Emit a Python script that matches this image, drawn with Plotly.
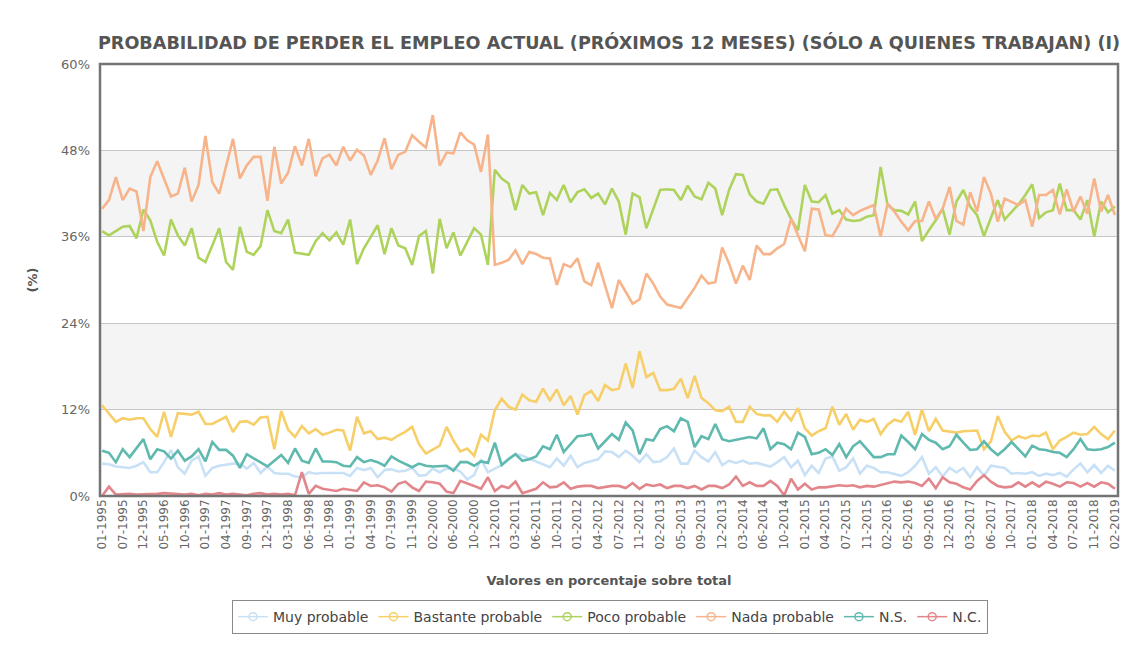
import plotly.graph_objects as go

dates = [
    "01-1995", "03-1995", "05-1995", "07-1995", "09-1995", "10-1995", "12-1995",
    "02-1996", "04-1996", "05-1996", "06-1996", "07-1996", "10-1996", "11-1996", "12-1996",
    "01-1997", "02-1997", "03-1997", "04-1997", "05-1997", "07-1997", "09-1997", "10-1997", "11-1997", "12-1997",
    "01-1998", "02-1998", "03-1998", "04-1998", "05-1998", "06-1998", "07-1998", "09-1998", "10-1998", "11-1998", "12-1998",
    "01-1999", "02-1999", "03-1999", "04-1999", "05-1999", "06-1999", "07-1999", "09-1999", "10-1999", "11-1999", "12-1999",
    "01-2000", "02-2000", "04-2000", "05-2000", "06-2000", "07-2000", "09-2000", "10-2000", "11-2000", "12-2000",
    "12-2010",
    "01-2011", "02-2011", "03-2011", "04-2011", "05-2011", "06-2011", "07-2011", "09-2011", "10-2011", "11-2011", "12-2011",
    "01-2012", "02-2012", "03-2012", "04-2012", "05-2012", "06-2012", "07-2012", "09-2012", "10-2012", "11-2012", "12-2012",
    "01-2013", "02-2013", "03-2013", "04-2013", "05-2013", "06-2013", "07-2013", "09-2013", "10-2013", "11-2013", "12-2013",
    "01-2014", "02-2014", "03-2014", "04-2014", "05-2014", "06-2014", "07-2014", "09-2014", "10-2014", "11-2014", "12-2014",
    "01-2015", "02-2015", "03-2015", "04-2015", "05-2015", "06-2015", "07-2015", "09-2015", "10-2015", "11-2015", "12-2015",
    "01-2016", "02-2016", "03-2016", "04-2016", "05-2016", "06-2016", "07-2016", "09-2016", "10-2016", "11-2016", "12-2016",
    "01-2017", "02-2017", "03-2017", "04-2017", "05-2017", "06-2017", "07-2017", "09-2017", "10-2017", "11-2017", "12-2017",
    "01-2018", "02-2018", "03-2018", "04-2018", "05-2018", "06-2018", "07-2018", "09-2018", "10-2018", "11-2018", "12-2018",
    "01-2019", "02-2019",
]

muy_probable = [
    4.5, 4.4, 4.1, 4.0, 3.9, 4.2, 4.7, 3.3, 3.3, 4.7, 6.4, 4.0, 3.1, 4.9, 5.5, 2.8, 3.9, 4.2, 4.4, 4.5,
    4.5, 3.8, 4.6, 3.2, 4.1, 3.2, 3.1, 3.1, 2.7, 2.6, 3.3, 3.1, 3.2, 3.2, 3.1, 3.2, 2.8, 3.9, 3.6, 3.9,
    2.6, 3.6, 3.7, 3.4, 3.5, 3.9, 2.8, 2.9, 3.8, 3.3,
    3.8, 3.8, 3.4, 2.3, 2.9, 5.1, 3.3, 3.8, 4.3, 5.2, 5.8, 5.6, 5.2, 4.9, 4.5, 4.0, 5.2, 4.2, 5.6, 4.0,
    4.6, 4.9, 5.1, 6.2, 6.1, 5.4, 6.3, 5.6, 4.7, 5.8, 4.7, 4.8, 5.4, 6.6, 4.5, 4.5, 6.3, 5.4, 4.8, 6.1,
    4.3, 4.9, 4.6, 4.9, 4.5, 4.6, 4.3,
    4.1, 4.7, 5.4, 4.0, 4.9, 2.9, 4.2, 3.2, 5.2, 5.5, 3.5, 4.0, 5.2, 3.1, 4.2, 3.9, 3.3, 3.3, 3.1, 2.8,
    3.3, 4.2, 5.4, 3.1, 4.0, 2.7, 3.9, 3.3, 3.9, 2.6, 4.0, 2.8, 4.2, 4.0, 3.9, 3.1, 3.2, 3.1, 3.3, 2.8,
    3.1, 2.9, 3.2, 2.7, 3.7, 4.5, 3.3, 4.3, 3.2, 4.2, 3.5,
]

bastante_probable = [
    12.6, 11.4, 10.3, 10.8, 10.6, 10.8, 10.8, 9.3, 8.2, 11.7, 8.2, 11.5, 11.4, 11.3, 11.7, 10.0, 10.0, 10.5, 11.0, 8.9,
    10.3, 10.4, 9.9, 10.9, 11.0, 6.5, 11.8, 9.2, 8.2, 9.7, 8.7, 9.3, 8.5, 8.8, 9.2, 9.1, 6.3, 11.0, 8.7, 9.0,
    7.9, 8.1, 7.8, 8.4, 8.9, 9.6, 7.2, 5.9, 6.5, 7.0,
    9.6, 7.7, 6.2, 6.6, 5.6, 8.5, 7.7, 11.9, 13.5, 12.4, 12.0, 14.1, 13.3, 13.1, 14.9, 13.3, 14.8, 12.6, 13.9, 11.3,
    14.0, 14.6, 13.2, 15.4, 14.7, 14.9, 18.4, 15.0, 20.1, 16.5, 17.1, 14.7, 14.7, 14.9, 16.3, 13.6, 16.7, 13.6, 12.9, 11.9,
    11.8, 12.4, 10.3, 10.3, 12.4, 11.4, 11.2,
    11.2, 10.3, 11.7, 10.5, 12.2, 9.4, 8.4, 9.0, 9.4, 12.4, 9.9, 11.4, 9.2, 10.6, 10.3, 10.7, 8.6, 9.9, 10.6, 10.3,
    11.7, 8.5, 12.0, 9.0, 10.7, 9.1, 9.0, 8.8, 9.0, 9.0, 9.1, 6.5, 7.6, 11.1, 8.9, 7.7, 8.3, 8.0, 8.4, 8.3,
    8.8, 6.5, 7.7, 8.2, 8.8, 8.5, 8.6, 9.6, 8.6, 7.9, 9.1,
]

poco_probable = [
    36.8, 36.2, 36.8, 37.4, 37.5, 35.8, 39.8, 38.3, 35.3, 33.4, 38.4, 36.2, 34.8, 37.2, 33.1, 32.5, 34.8, 37.2, 32.5, 31.4,
    37.4, 33.9, 33.5, 34.7, 39.7, 36.8, 36.5, 38.4, 33.8, 33.7, 33.5, 35.4, 36.5, 35.5, 36.6, 34.9, 38.4, 32.2, 34.4, 36.0,
    37.6, 33.6, 37.2, 34.8, 34.4, 32.1, 36.1, 36.8, 30.9, 38.5, 34.4, 36.6, 33.4, 35.3, 37.2, 36.3, 32.1,
    45.3, 44.1, 43.4, 39.7, 43.2, 42.0, 42.2, 39.0, 42.1, 41.1, 43.2, 40.8, 42.2, 42.6, 41.4, 42.0, 40.5, 42.7, 40.9, 36.3,
    42.0, 41.5, 37.2, 39.9, 42.5, 42.6, 42.5, 41.1, 43.1, 41.6, 41.2, 43.5, 42.7, 39.0, 42.5, 44.7, 44.6, 41.9, 40.9, 40.6,
    42.5, 42.6, 40.4, 38.5, 36.9, 43.2, 40.9, 40.8, 41.8, 39.2, 39.7, 38.4, 38.2, 38.3, 38.8, 39.0, 45.7, 40.4, 39.7, 39.6,
    39.1, 40.9, 35.4, 36.9, 38.3, 39.9, 36.3, 40.9, 42.5, 40.2, 39.0, 36.1, 38.5, 41.1, 38.4, 39.5, 40.5, 41.8, 43.3, 38.6,
    39.4, 39.7, 43.4, 39.7, 39.7, 38.4, 41.1, 36.0, 40.9, 39.4, 40.2,
]

nada_probable = [
    39.9, 41.1, 44.3, 41.1, 42.7, 42.3, 36.8, 44.3, 46.5, 44.1, 41.6, 42.0, 45.6, 40.9, 43.2, 50.0, 43.6, 42.0, 46.0, 49.6,
    44.1, 45.9, 47.1, 47.1, 41.0, 48.5, 43.4, 44.9, 48.6, 45.9, 49.6, 44.4, 46.9, 47.4, 45.9, 48.5, 46.6, 48.1, 47.3, 44.6,
    46.6, 49.7, 45.4, 47.4, 47.8, 50.1, 49.2, 48.4, 52.9, 45.9, 47.7, 47.6, 50.5, 49.4, 48.8, 45.0, 50.2,
    32.1, 32.4, 32.8, 34.1, 32.2, 33.9, 33.6, 33.1, 33.0, 29.3, 32.2, 31.8, 33.0, 29.8, 29.3, 32.4, 29.3, 26.1, 30.0, 28.4,
    26.7, 27.3, 30.9, 29.5, 27.7, 26.6, 26.3, 26.1, 27.5, 28.9, 30.6, 29.5, 29.7, 34.5, 32.3, 29.5, 32.0, 30.0, 34.8, 33.6,
    33.6, 34.4, 35.0, 38.5, 36.2, 34.0,
    39.9, 39.8, 36.2, 36.1, 37.8, 39.9, 39.0, 39.6, 40.0, 40.4, 36.0, 40.6, 39.5, 38.1, 36.9, 38.2, 38.2, 40.9, 38.5, 39.9,
    42.9, 38.2, 37.7, 42.2, 39.5, 44.3, 42.0, 38.1, 41.3, 40.9, 40.4, 41.1, 37.4, 41.8, 41.8, 42.5, 39.1, 42.6, 39.5, 41.6,
    39.2, 44.1, 39.5, 41.8, 39.0,
]

ns = [
    6.3, 6.0, 4.7, 6.5, 5.4, 6.7, 7.9, 5.1, 6.5, 6.2, 5.2, 6.3, 4.9, 5.5, 6.5, 4.8, 7.5, 6.4, 6.4, 5.6,
    3.9, 5.8, 5.2, 4.6, 4.1, 4.9, 5.7, 4.6, 6.6, 4.9, 4.6, 6.6, 4.8, 4.8, 4.7, 4.2, 4.1, 5.4, 4.7, 5.0,
    4.7, 4.2, 5.5, 4.9, 4.5, 4.0, 4.5, 4.2, 4.1, 4.1,
    4.2, 3.5, 4.7, 4.7, 4.2, 4.8, 4.6, 7.4, 4.3, 5.1, 5.8, 4.9, 5.1, 5.5, 6.9, 6.5, 8.5, 6.1, 7.2, 8.3,
    8.4, 8.6, 6.6, 7.6, 8.6, 7.8, 10.2, 9.1, 5.8, 7.9, 7.7, 9.3, 9.7, 9.0, 10.8, 10.3, 6.8, 8.3, 7.9, 10.0,
    7.9, 7.6, 7.8, 7.9, 8.2, 8.0, 9.4,
    6.5, 7.4, 7.2, 6.5, 8.8, 8.2, 5.8, 6.0, 6.5, 5.7, 7.2, 5.4, 6.9, 7.6, 6.5, 5.4, 5.4, 5.8, 5.8, 8.4,
    7.5, 6.5, 8.6, 7.8, 7.4, 6.5, 6.9, 8.5, 7.4, 6.4, 6.5, 7.6, 6.5, 5.7, 6.5, 7.5, 6.5, 5.5, 7.0, 6.5,
    6.4, 6.1, 6.0, 5.4, 6.5, 7.9, 6.5, 6.4, 6.5, 6.8, 7.4,
]

nc = [
    0.0, 1.3, 0.2, 0.3, 0.3, 0.2, 0.2, 0.2, 0.3, 0.4, 0.3, 0.2, 0.2, 0.3, 0.1, 0.3, 0.2, 0.4, 0.2, 0.3,
    0.2, 0.1, 0.3, 0.4, 0.2, 0.3, 0.2, 0.3, 0.1, 3.3, 0.3, 1.4, 1.0, 0.8, 0.7, 1.0, 0.8, 0.7, 1.9, 1.4,
    1.5, 1.2, 0.6, 1.7, 2.0, 1.2, 0.7, 2.0, 1.9, 1.7,
    0.6, 0.4, 2.1, 1.8, 1.4, 1.0, 2.6, 0.7, 1.4, 1.1, 2.0, 0.4, 0.7, 1.0, 1.9, 1.2, 1.3, 1.9, 1.0, 1.3,
    1.4, 1.4, 1.1, 1.3, 1.4, 1.4, 1.1, 1.8, 1.0, 1.6, 1.4, 1.6, 1.1, 1.4, 1.4, 1.1, 1.4, 0.9, 1.4, 1.4,
    1.1, 1.6, 2.7, 1.4, 1.9, 1.4, 1.4,
    2.1, 1.4, 0.1, 2.4, 0.9, 1.7, 0.9, 1.2, 1.2, 1.3, 1.5, 1.4, 1.5, 1.2, 1.4, 1.3, 1.5, 1.7, 2.0, 1.9,
    2.0, 1.8, 1.4, 2.4, 1.1, 2.6, 1.9, 1.7, 1.2, 0.9, 2.1, 2.9, 2.0, 1.4, 1.2, 1.3, 1.9, 1.3, 1.9, 1.3,
    2.0, 1.7, 1.3, 1.9, 1.8, 1.3, 1.8, 1.3, 1.9, 1.7, 1.0,
]

series_names = ["Muy probable", "Bastante probable", "Poco probable", "Nada probable", "N.S.", "N.C."]
series_values = [muy_probable, bastante_probable, poco_probable, nada_probable, ns, nc]
series_colors = ["#c9e1f6", "#f7cf69", "#aed35c", "#f7b48a", "#5fb9ae", "#e2868b"]

y_tickvals = [0, 12, 24, 36, 48, 60]
y_ticktext = ["0%", "12%", "24%", "36%", "48%", "60%"]
bands = [(12, 24), (36, 48)]

FONT = "DejaVu Sans"
FIG_W, FIG_H = 1122, 637  # page body has an 8px margin

fig = go.Figure()

for name, vals, col in zip(series_names, series_values, series_colors):
    fig.add_trace(go.Scatter(
        x=dates, y=vals, mode="lines", name=name, showlegend=False,
        line=dict(color=col, width=2.6), hoverinfo="x+y+name",
    ))

for name, col in zip(series_names, series_colors):
    fig.add_trace(go.Scatter(
        x=[None], y=[None], mode="lines+markers", name=name,
        line=dict(color=col, width=1.5),
        marker=dict(symbol="circle-open", size=8, color=col, line=dict(width=1.5, color=col)),
    ))

shapes = []
for lo, hi in bands:
    shapes.append(dict(type="rect", xref="paper", yref="y", x0=0, x1=1, y0=lo, y1=hi,
                       fillcolor="#f4f4f4", line=dict(width=0), layer="below"))
shapes.append(dict(type="rect", xref="paper", yref="paper", x0=0, x1=1, y0=0, y1=1,
                   line=dict(color="#747474", width=2.5), layer="above"))

fig.update_layout(
    width=FIG_W, height=FIG_H,
    margin=dict(l=92, r=12, t=56, b=148),
    paper_bgcolor="white", plot_bgcolor="white",
    font=dict(family=FONT, color="#555555"),
    title=dict(
        text="<b>PROBABILIDAD DE PERDER EL EMPLEO ACTUAL (PRÓXIMOS 12 MESES) (SÓLO A QUIENES TRABAJAN) (I)</b>",
        font=dict(family=FONT, size=17.6, color="#555555"),
        x=0.5, xref="paper", xanchor="center", y=1 - 35 / FIG_H, yref="container", yanchor="middle",
    ),
    shapes=shapes,
    xaxis=dict(
        type="category", categoryorder="array", categoryarray=dates,
        tickmode="array", tickvals=dates[::3], ticktext=dates[::3],
        tickangle=-90, tickfont=dict(family=FONT, size=12, color="#666666"),
        showgrid=False, zeroline=False, showline=False, ticks="", automargin=False,
        range=[-0.3, len(dates) - 0.55],
        title=dict(text="<b>Valores en porcentaje sobre total</b>",
                   font=dict(family=FONT, size=13, color="#555555"), standoff=27),
    ),
    yaxis=dict(
        range=[0, 60], tickmode="array", tickvals=y_tickvals, ticktext=y_ticktext,
        tickfont=dict(family=FONT, size=13, color="#666666"),
        showgrid=True, gridcolor="#c6c6c6", gridwidth=1, zeroline=False, showline=False,
        ticks="", ticklabelstandoff=9, automargin=False,
        title=dict(text="<b>(%)</b>", font=dict(family=FONT, size=13, color="#555555"), standoff=20),
    ),
    legend=dict(
        orientation="h", x=0.501, xanchor="center", y=-0.238, yanchor="top",
        bordercolor="#8a8a8a", borderwidth=1, bgcolor="white",
        font=dict(family=FONT, size=14, color="#444444"),
    ),
)

fig.write_html("out.html")
